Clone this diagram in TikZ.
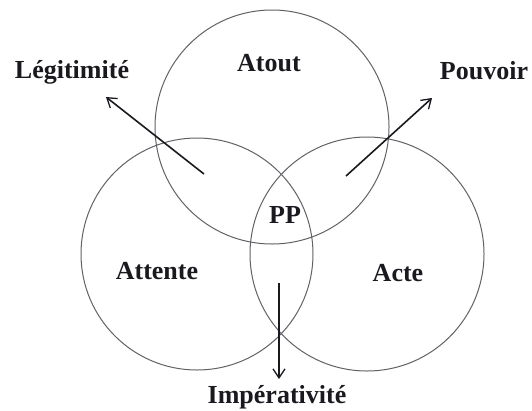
\documentclass[tikz,border=0pt]{standalone}
\usepackage{fontspec}
\setmainfont{Liberation Serif}
\usetikzlibrary{arrows.meta}
\definecolor{ringgray}{rgb}{0.38,0.38,0.40}
\definecolor{inkblack}{rgb}{0.10,0.10,0.12}
\tikzset{
  ring/.style={draw=ringgray, line width=1pt},
  word/.style={anchor=base, inner sep=0pt, text=inkblack,
    font=\fontsize{26}{28}\selectfont\bfseries},
  pointer/.style={draw=inkblack, line width=1.6pt,
    -{Straight Barb[length=9pt,width=12pt,line width=1.3pt]}}
}
\begin{document}
\begin{tikzpicture}[x=1pt,y=-1pt]
\useasboundingbox (0,0) rectangle (532,410);
% circles
\coordinate (ctop) at (272,127);
\coordinate (cleft) at (197,254);
\coordinate (cright) at (367,254);
\draw[ring] (ctop) circle[radius=117pt];
\draw[ring] (cleft) circle[radius=116pt];
\draw[ring] (cright) circle[radius=117pt];
% labels
\node[word] (atout) at (269,71) {Atout};
\node[word] (attente) at (157,279) {Attente};
\node[word] (acte) at (398,281) {Acte};
\node[word] (pp) at (285,223) {PP};
\node[word] (legit) at (72,78) {Légitimité};
\node[word] (pouv) at (484,79) {Pouvoir};
\node[word] (imper) at (277,403) {Impérativité};
% arrows
\coordinate (legS) at (204,174);
\coordinate (legE) at (106,97);
\coordinate (pouS) at (346,176);
\coordinate (pouE) at (432,98);
\coordinate (impS) at (279,283);
\coordinate (impE) at (279,379);
\draw[pointer] (legS) -- (legE);
\draw[pointer] (pouS) -- (pouE);
\draw[pointer] (impS) -- (impE);
\end{tikzpicture}
\end{document}
